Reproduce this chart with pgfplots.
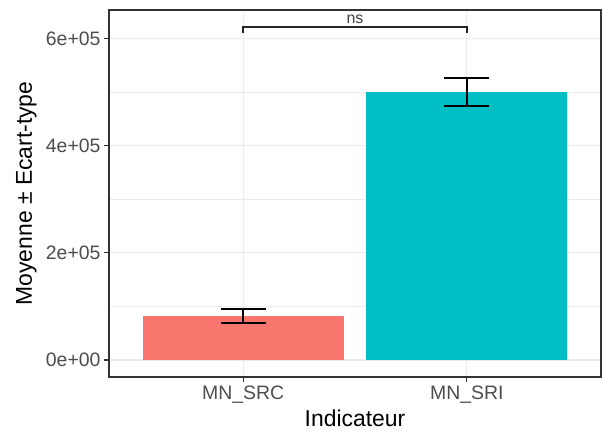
\documentclass[border=0pt]{standalone}
\usepackage{fontspec}
\setmainfont{Liberation Sans}
\usepackage{pgfplots}
\pgfplotsset{compat=1.18}
\definecolor{srcred}{HTML}{F8766D}
\definecolor{sricyan}{HTML}{00BFC4}
\definecolor{gridgray}{HTML}{EBEBEB}
\definecolor{axgray}{HTML}{333333}
\definecolor{ticktext}{HTML}{4D4D4D}

\begin{document}
\begin{tikzpicture}
\useasboundingbox (-109bp,-55bp) rectangle (493bp,377bp);
\begin{axis}[
    at={(0,0)}, anchor=south west,
    scale only axis, width=492bp, height=367bp,
    xmin=0.4, xmax=2.6, ymin=-31800, ymax=653000,
    xtick={1,2}, xticklabels={MN\_SRC, MN\_SRI},
    ytick={0,200000,400000,600000},
    yticklabels={0e+00,2e+05,4e+05,6e+05},
    minor ytick={100000,300000,500000},
    scaled y ticks=false,
    grid=both,
    major grid style={gridgray, line width=1.1bp},
    minor grid style={gridgray, line width=0.6bp},
    tick align=outside, major tick length=5bp, minor tick length=0pt,
    tick style={axgray, line width=1.1bp},
    axis line style={axgray, line width=1.3bp},
    xtick pos=bottom, ytick pos=left,
    ticklabel style={font=\fontsize{19.5}{20}\selectfont, text=ticktext},
    label style={font=\fontsize{23}{24}\selectfont},
    xlabel={Indicateur},
    ylabel={Moyenne ± Ecart-type},
    xlabel style={at={(axis description cs:0.5,0)}, anchor=base, inner sep=0pt, yshift=-49bp},
    ylabel style={at={(axis description cs:0,0.5)}, anchor=base, yshift=77bp},
]
% moyennes et ecarts-types
\addplot[ybar, bar width=0.9, bar shift=0pt, fill=srcred, draw=none,
    error bars/.cd, y dir=both, y explicit,
    error bar style={black, line width=1.5bp},
    error mark options={black, line width=1.5bp, mark size=22.5bp, rotate=90}]
    coordinates {(1,82000) +- (0,13000)};
\addplot[ybar, bar width=0.9, bar shift=0pt, fill=sricyan, draw=none,
    error bars/.cd, y dir=both, y explicit,
    error bar style={black, line width=1.5bp},
    error mark options={black, line width=1.5bp, mark size=22.5bp, rotate=90}]
    coordinates {(2,500000) +- (0,26000)};
% crochet de comparaison
\addplot[black!85, line width=1.5bp, mark=none]
    coordinates {(1,611000) (1,621000) (2,621000) (2,611000)};
\node[font=\fontsize{16}{17}\selectfont, text=black!75, anchor=base]
    at (axis cs:1.5,628000) {ns};
\end{axis}
\end{tikzpicture}
\end{document}
